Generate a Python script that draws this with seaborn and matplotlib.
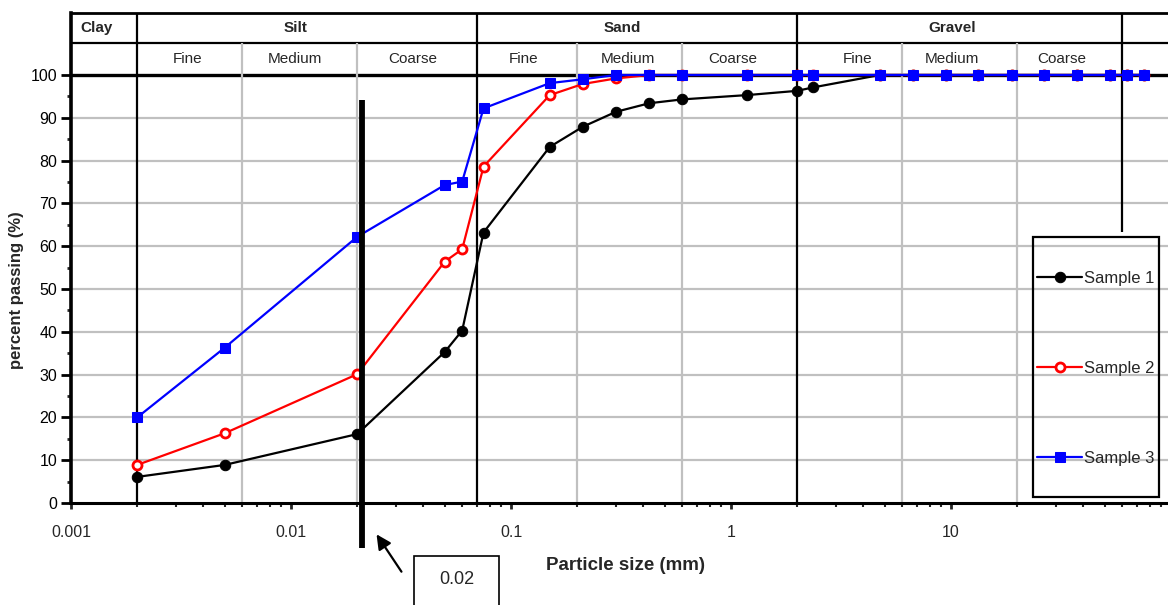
import numpy as np
import pandas as pd
import matplotlib
matplotlib.use("Agg")
import matplotlib.pyplot as plt
import matplotlib.patches as mpatches
from matplotlib.ticker import FixedLocator, NullFormatter, FixedFormatter
import seaborn as sns

# ---------------- data ----------------
sieve_mm = [0.002, 0.005, 0.02, 0.05, 0.06, 0.075, 0.15, 0.212, 0.3, 0.425, 0.6,
            1.18, 2.0, 2.36, 4.75, 6.7, 9.5, 13.2, 19.0, 26.5, 37.5, 53.0, 63.0, 75.0]
sample1 = [6.1, 8.9, 16.1, 35.3, 40.3, 63.2, 83.2, 87.9, 91.4, 93.4, 94.3,
           95.3, 96.3, 97.1, 100, 100, 100, 100, 100, 100, 100, 100, 100, 100]
sample2 = [8.9, 16.3, 30.1, 56.4, 59.3, 78.6, 95.3, 97.9, 99.2, 100, 100,
           100, 100, 100, 100, 100, 100, 100, 100, 100, 100, 100, 100, 100]
sample3 = [20.0, 36.3, 62.2, 74.3, 75.1, 92.2, 98.1, 99.0, 100, 100, 100,
           100, 100, 100, 100, 100, 100, 100, 100, 100, 100, 100, 100, 100]
series_names = ["Sample 1", "Sample 2", "Sample 3"]

# soil classification boundaries (mm)
major_bounds = [0.002, 0.07, 2.0]
gravel_top = 60.0
minor_bounds = [0.006, 0.02, 0.2, 0.6, 6.0, 20.0]
major_names = ["Clay", "Silt", "Sand", "Gravel"]
sub_names = ["Fine", "Medium", "Coarse", "Fine", "Medium", "Coarse", "Fine", "Medium", "Coarse"]
marker_size_mm = 0.021
marker_label = "0.02"
x_tick_vals = [0.001, 0.01, 0.1, 1, 10]
x_tick_labels = ["0.001", "0.01", "0.1", "1", "10"]
y_tick_vals = list(range(0, 101, 10))

# ---------------- style ----------------
sns.set_style("white")
plt.rcParams['font.family'] = ['Liberation Sans', 'DejaVu Sans']

W, H = 1168, 605
fig = plt.figure(figsize=(W / 100, H / 100), dpi=100)

def fx(px):
    return px / W

def fy(py):
    return 1 - py / H

def px2mm(px):
    return 10 ** (-3 + (px - 71) / 220.0)

ax_left, ax_right, ax_top, ax_bot = 71, 1171, 13, 503
ax = fig.add_axes([fx(ax_left), fy(ax_bot), (ax_right - ax_left) / W, (ax_bot - ax_top) / H])
ax.set_xscale('log')
ax.set_xlim(0.001, 100)
YTOP = (503 - 13) / 4.28
YSEP = (503 - 43) / 4.28
ax.set_ylim(0, YTOP)

gray = '#c0c0c0'
# grid lines
for v in range(10, 100, 10):
    ax.axhline(v, color=gray, lw=1.6, zorder=1)
ax.axhline(100, color='black', lw=2.4, zorder=1)
ax.axhline(YSEP, color='black', lw=1.6, zorder=1)
for b in minor_bounds:
    ax.vlines(b, 0, YSEP, color=gray, lw=1.6, zorder=1)
for b in major_bounds:
    ax.vlines(b, 0, YTOP, color='black', lw=1.6, zorder=2)
ax.vlines(gravel_top, (503 - 232) / 4.28, YTOP, color='black', lw=1.6, zorder=2)

# data
df = pd.DataFrame({"size": sieve_mm * 3,
                   "passing": sample1 + sample2 + sample3,
                   "sample": np.repeat(series_names, len(sieve_mm))})
styles = {
    "Sample 1": dict(color='black', marker='o', markersize=7.5, markerfacecolor='black',
                     markeredgecolor='black', lw=1.6),
    "Sample 2": dict(color='red', marker='o', markersize=6.5, markerfacecolor='white',
                     markeredgecolor='red', markeredgewidth=2.0, lw=1.6),
    "Sample 3": dict(color='blue', marker='s', markersize=7.5, markerfacecolor='blue',
                     markeredgecolor='blue', lw=1.6),
}
for name in series_names:
    sub = df[df["sample"] == name]
    sns.lineplot(data=sub, x="size", y="passing", ax=ax, sort=False, estimator=None,
                 label=name, zorder=5, clip_on=False, **styles[name])

# thick annotation line at 0.02
ax.vlines(marker_size_mm, (503 - 548) / 4.28, (503 - 100) / 4.28, color='black', lw=4.2,
          zorder=6, clip_on=False)

# spines / ticks
ax.spines['right'].set_visible(False)
ax.spines['left'].set_linewidth(2.6)
ax.spines['left'].set_color('black')
ax.spines['bottom'].set_linewidth(2.2)
ax.spines['bottom'].set_color('black')
ax.spines['top'].set_linewidth(2.0)
ax.spines['top'].set_color('black')

ax.yaxis.set_major_locator(FixedLocator(y_tick_vals))
ax.yaxis.set_minor_locator(FixedLocator([v + 5 for v in y_tick_vals[:-1]]))
ax.set_yticklabels([str(v) for v in y_tick_vals])
ax.xaxis.set_major_locator(FixedLocator(x_tick_vals))
ax.xaxis.set_major_formatter(FixedFormatter(x_tick_labels))
minors = [m * d for d in [0.001, 0.01, 0.1, 1, 10] for m in range(2, 10)]
ax.xaxis.set_minor_locator(FixedLocator(minors))
ax.xaxis.set_minor_formatter(NullFormatter())
ax.tick_params(axis='y', which='major', direction='out', length=7, width=2, labelsize=11.5, pad=3,
               left=True, colors='black')
ax.tick_params(axis='y', which='minor', direction='out', length=3, width=2, left=True)
ax.tick_params(axis='x', which='major', direction='out', length=4, width=2, labelsize=11.5, pad=12,
               bottom=True)
ax.tick_params(axis='x', which='minor', direction='out', length=3, width=1.5, bottom=True)
ax.set_xlabel("")
ax.set_ylabel("")

# header labels
yrow1 = (YTOP + YSEP) / 2
yrow2 = (YSEP + 100) / 2
ax.text(px2mm(80), yrow1, major_names[0], ha='left', va='center', fontsize=11, fontweight='bold')
for name, px in zip(major_names[1:], [296, 622, 952]):
    ax.text(px2mm(px), yrow1, name, ha='center', va='center', fontsize=11, fontweight='bold')
for name, px in zip(sub_names, [188, 295, 413, 524, 628, 733, 858, 952, 1062]):
    ax.text(px2mm(px), yrow2, name, ha='center', va='center', fontsize=11)

# axis titles
fig.text(fx(625), fy(566), "Particle size (mm)", ha='center', va='center', fontsize=13.5, fontweight='bold')
fig.text(fx(17), fy(290), "percent passing (%)", ha='center', va='center', fontsize=12,
         fontweight='bold', rotation=90)

# legend
leg_box = mpatches.Rectangle((fx(1033), fy(497)), fx(1159) - fx(1033), fy(237) - fy(497),
                             transform=fig.transFigure, fill=False, edgecolor='black', lw=1.6)
fig.patches.append(leg_box)
handles, labels = ax.get_legend_handles_labels()
if ax.get_legend():
    ax.get_legend().remove()
leg = fig.legend(handles, labels, loc='center', bbox_to_anchor=(fx(1096), fy(368)),
                 frameon=False, fontsize=12, labelspacing=4.5, handlelength=2.7,
                 handletextpad=0.1)

# annotation arrow and box
fig.add_artist(matplotlib.patches.FancyArrowPatch((fx(403), fy(574)), (fx(375), fy(532)),
                                                  transform=fig.transFigure, arrowstyle='-|>',
                                                  mutation_scale=22, lw=1.6, color='black'))
fig.patches.append(mpatches.Rectangle((fx(414), fy(607)), fx(499) - fx(414), fy(556) - fy(607),
                                      transform=fig.transFigure, fill=False, edgecolor='black', lw=1.2))
fig.text(fx(457), fy(580), marker_label, ha='center', va='center', fontsize=13)

fig.savefig("out.png", dpi=100)
